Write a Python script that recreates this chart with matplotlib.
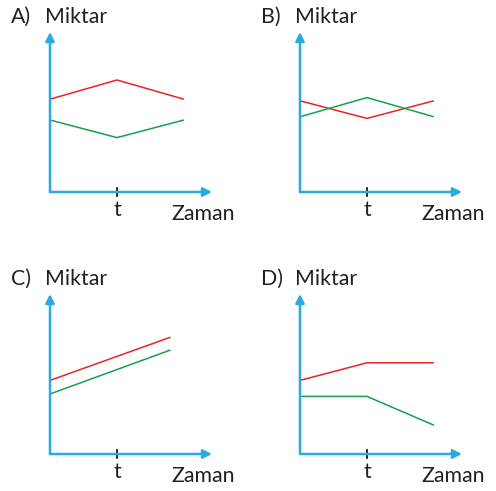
import matplotlib.pyplot as plt

plt.rcParams['font.family'] = ['Lato', 'DejaVu Sans']

BLUE = '#29aae1'
RED = '#ec2227'
GREEN = '#17a04b'
TXT = '#231f20'

# time points (t = 1) and amounts for each option
panels = ['A)', 'B)', 'C)', 'D)']
x_abd = [0, 1, 2]
x_c = [0, 1.8]
red_a = [5.8, 7.0, 5.8]
green_a = [4.5, 3.4, 4.5]
red_b = [5.7, 4.6, 5.7]
green_b = [4.7, 5.9, 4.7]
red_c = [4.6, 7.3]
green_c = [3.75, 6.5]
red_d = [4.6, 5.7, 5.7]
green_d = [3.6, 3.6, 1.8]

series = [
    (x_abd, red_a, green_a),
    (x_abd, red_b, green_b),
    (x_c, red_c, green_c),
    (x_abd, red_d, green_d),
]

W, H = 496, 491
fig = plt.figure(figsize=(W / 100, H / 100), dpi=100)

# axes origin (px) for each panel
origins = [(50, 192), (300, 192), (50, 454), (300, 454)]
xmax, ymax = 2.42, 10.0
pw, ph = 162, 160
fs = 15.3

for (ox, oy), name, (xs, r, g) in zip(origins, panels, series):
    ax = fig.add_axes([ox / W, (H - oy) / H, pw / W, ph / H])
    ax.set_xlim(0, xmax)
    ax.set_ylim(0, ymax)
    ax.axis('off')
    ax.plot(xs, r, color=RED, lw=1.1, solid_capstyle='butt')
    ax.plot(xs, g, color=GREEN, lw=1.1, solid_capstyle='butt')
    ax.annotate('', xy=(xmax, 0), xytext=(0, 0),
                arrowprops=dict(arrowstyle='-|>', color=BLUE, lw=1.8,
                                mutation_scale=13, shrinkA=0, shrinkB=0),
                annotation_clip=False)
    ax.annotate('', xy=(0, ymax), xytext=(0, 0),
                arrowprops=dict(arrowstyle='-|>', color=BLUE, lw=1.8,
                                mutation_scale=13, shrinkA=0, shrinkB=0),
                annotation_clip=False)
    ax.plot([1, 1], [-0.28, 0.28], color='black', lw=1.2, clip_on=False)
    ax.text(1, -1.15, 't', ha='center', va='center', fontsize=fs, color=TXT)
    ax.text(1.82, -1.4, 'Zaman', ha='left', va='center', fontsize=fs, color=TXT)
    ax.text(-0.075, 10.95, 'Miktar', ha='left', va='center', fontsize=fs, color=TXT)
    ax.text(-0.58, 10.95, name, ha='left', va='center', fontsize=fs, color=TXT)

fig.savefig('out.png', dpi=100)
